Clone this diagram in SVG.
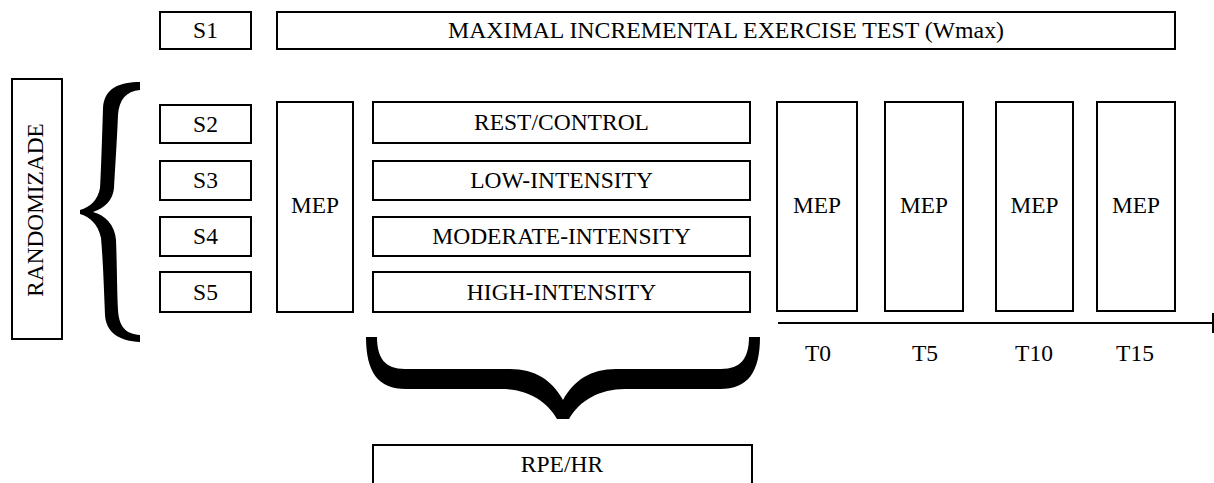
<svg xmlns="http://www.w3.org/2000/svg" width="1214" height="483" viewBox="0 0 1214 483">
<style>
.box{fill:#fff;stroke:#000;stroke-width:2}
.br{fill:#000;stroke:none}
</style>
<rect width="1214" height="483" fill="#fff"/>
<g id="randomizade"><rect class="box" x="12" y="79" width="50" height="260"/><text font-family="Liberation Serif" font-size="23.3" text-anchor="middle" transform="translate(43,210) rotate(-90)">RANDOMIZADE</text></g>
<g id="s1"><rect class="box" x="160" y="12" width="91" height="37"/><text font-family="Liberation Serif" font-size="23.5" text-anchor="middle" x="205.5" y="38">S1</text></g>
<g id="wmax"><rect class="box" x="277" y="12" width="898" height="37"/><text font-family="Liberation Serif" font-size="23.8" text-anchor="middle" x="726" y="38">MAXIMAL INCREMENTAL EXERCISE TEST (Wmax)</text></g>
<g id="s2"><rect class="box" x="160" y="105" width="91" height="38"/><text font-family="Liberation Serif" font-size="23.5" text-anchor="middle" x="205.5" y="132">S2</text></g>
<g id="s3"><rect class="box" x="160" y="161" width="91" height="39"/><text font-family="Liberation Serif" font-size="23.5" text-anchor="middle" x="205.5" y="188">S3</text></g>
<g id="s4"><rect class="box" x="160" y="217" width="91" height="39"/><text font-family="Liberation Serif" font-size="23.5" text-anchor="middle" x="205.5" y="244">S4</text></g>
<g id="s5"><rect class="box" x="160" y="272" width="91" height="40"/><text font-family="Liberation Serif" font-size="23.5" text-anchor="middle" x="205.5" y="300">S5</text></g>
<g id="mep0"><rect class="box" x="277" y="102" width="76" height="210"/><text font-family="Liberation Serif" font-size="23.3" text-anchor="middle" x="315" y="213">MEP</text></g>
<g id="rest"><rect class="box" x="373" y="102" width="377" height="41"/><text font-family="Liberation Serif" font-size="23.5" text-anchor="middle" x="561.5" y="130">REST/CONTROL</text></g>
<g id="low"><rect class="box" x="373" y="161" width="377" height="39"/><text font-family="Liberation Serif" font-size="23.5" text-anchor="middle" x="561.5" y="188">LOW-INTENSITY</text></g>
<g id="moderate"><rect class="box" x="373" y="217" width="377" height="39"/><text font-family="Liberation Serif" font-size="23.5" text-anchor="middle" x="561.5" y="244">MODERATE-INTENSITY</text></g>
<g id="high"><rect class="box" x="373" y="272" width="377" height="40"/><text font-family="Liberation Serif" font-size="23.5" text-anchor="middle" x="561.5" y="300">HIGH-INTENSITY</text></g>
<g id="mep1"><rect class="box" x="777" y="102" width="80" height="209"/><text font-family="Liberation Serif" font-size="23.3" text-anchor="middle" x="817" y="213">MEP</text></g>
<g id="mep2"><rect class="box" x="885" y="102" width="78" height="209"/><text font-family="Liberation Serif" font-size="23.3" text-anchor="middle" x="924" y="213">MEP</text></g>
<g id="mep3"><rect class="box" x="996" y="102" width="77" height="209"/><text font-family="Liberation Serif" font-size="23.3" text-anchor="middle" x="1034.5" y="213">MEP</text></g>
<g id="mep4"><rect class="box" x="1097" y="102" width="78" height="209"/><text font-family="Liberation Serif" font-size="23.3" text-anchor="middle" x="1136" y="213">MEP</text></g>
<g id="rpe"><rect class="box" x="373" y="445" width="379" height="60"/><text font-family="Liberation Serif" font-size="23.5" text-anchor="middle" x="562" y="472">RPE/HR</text></g>
<g id="labels">
<text font-family="Liberation Serif" font-size="23.5" text-anchor="middle" x="818" y="361">T0</text>
<text font-family="Liberation Serif" font-size="23.5" text-anchor="middle" x="925" y="361">T5</text>
<text font-family="Liberation Serif" font-size="23.5" text-anchor="middle" x="1034" y="361">T10</text>
<text font-family="Liberation Serif" font-size="23.5" text-anchor="middle" x="1135" y="361">T15</text>
</g>
<g id="connectors">
<path class="br" d="M140 82 C120 82 104 88 103 108 C102 140 101 170 100 188 C98 200 90 207 80 210 L80 214 C90 217 98 224 101 238 C103 260 104 290 105 315 C106 333 120 341 140 342 L140 335 C126 334 119 327 118 310 C117 290 117 265 116 240 C115 225 105 215 93 212 C105 208 113 200 114 188 C115 170 117 140 118 115 C119 100 126 91 140 90 Z"/>
<path class="br" d="M366 337 L377 337 C377 358 385 369 405 369 L510 369 C535 369 552 380 563 400 C574 380 591 369 616 369 L721 369 C741 369 749 358 749 337 L760 337 C760 372 748 389 720 389 L625 389 C600 389 580 400 569 419 L557 419 C546 400 526 389 501 389 L406 389 C378 389 366 372 366 337 Z"/>
<path d="M778 323 H1213 M1213 313 V333" stroke="#000" stroke-width="2" fill="none"/>
</g>
</svg>
